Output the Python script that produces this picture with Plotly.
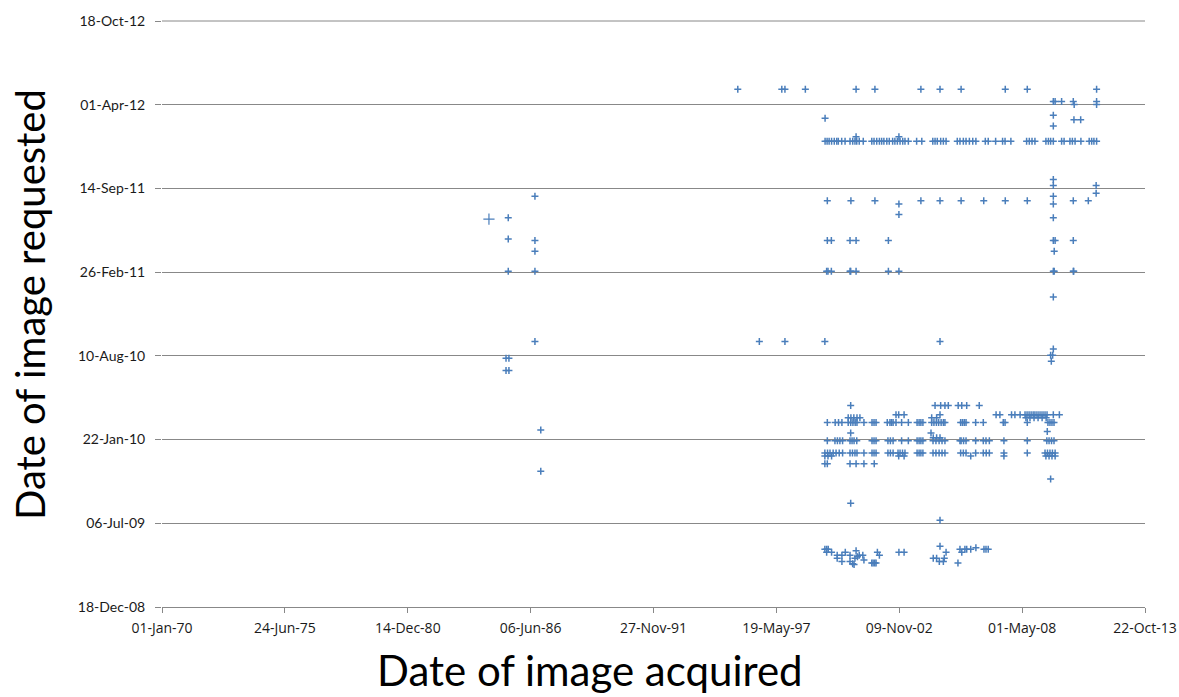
import datetime as dt
import plotly.graph_objects as go

# ---- values (decimal years) ----
# Archive images acquired in the mid-1980s: (acquired, requested) pairs
archive_acq = [1984.57, 1985.43, 1986.62, 1985.43, 1986.62, 1986.62, 1985.43, 1986.62,
               1986.62, 1985.33, 1985.46, 1985.33, 1985.46, 1986.88, 1986.88]
archive_req = [2011.50, 2011.51, 2011.65, 2011.37, 2011.36, 2011.29, 2011.16, 2011.16,
               2010.70, 2010.59, 2010.59, 2010.51, 2010.51, 2010.12, 2009.85]

# Rows: many images requested on the same date
req_may12 = 2012.35
acq_may12 = [1995.66, 1997.62, 1997.76, 1998.67, 2000.93, 2001.77, 2003.82, 2004.67,
             2005.61, 2007.58, 2008.56, 2011.65]

req_jan12 = 2012.01
acq_jan12 = [1999.55, 1999.64, 1999.73, 1999.84, 1999.96, 2000.07, 2000.14, 2000.29, 2000.44,
             2000.66, 2000.78, 2000.88, 2000.96, 2001.07, 2001.25, 2001.63, 2001.73, 2001.85,
             2001.97, 2002.07, 2002.17, 2002.30, 2002.41, 2002.56, 2002.66, 2002.77, 2002.89,
             2003.01, 2003.11, 2003.26, 2003.63, 2003.86, 2004.35, 2004.45, 2004.55, 2004.70,
             2004.82, 2004.94, 2005.44, 2005.56, 2005.71, 2005.83, 2005.98, 2006.13, 2006.27,
             2006.69, 2006.82, 2007.15, 2007.46, 2007.57, 2007.83, 2008.53, 2008.65, 2008.77,
             2008.90, 2009.39, 2009.50, 2009.60, 2009.72, 2010.09, 2010.20, 2010.46, 2010.57,
             2010.69, 2010.95, 2011.32, 2011.43, 2011.53, 2011.65]

req_aug11 = 2011.62
acq_aug11 = [1999.65, 2000.70, 2001.77, 2003.82, 2004.67, 2005.61, 2006.62, 2007.58,
             2008.56, 2010.61, 2011.28]

req_may11 = 2011.36
acq_may11 = [1999.65, 1999.83, 2000.66, 2000.93, 2002.37, 2009.72, 2009.80, 2010.61]

req_feb11 = 2011.16
acq_feb11 = [1999.62, 1999.68, 1999.83, 2000.66, 2000.69, 2000.93, 2002.37, 2002.84,
             2009.72, 2009.76, 2010.61, 2010.63]

req_sep10 = 2010.70
acq_sep10 = [1996.62, 1997.76, 1999.54, 2004.67]

req_apr10 = 2010.28
acq_apr10 = [2000.69, 2004.45, 2004.70, 2004.89, 2005.04, 2005.48, 2005.64, 2005.86, 2006.42]

req_mar10a = 2010.22
acq_mar10a = [2002.71, 2002.83, 2003.07, 2004.67, 2007.17, 2007.34, 2007.86, 2008.01, 2008.24,
              2008.46, 2008.55, 2008.64, 2008.73, 2008.82, 2008.90, 2008.99, 2009.08, 2009.17,
              2009.26, 2009.35, 2009.44, 2009.72, 2009.99]

req_mar10b = 2010.20
acq_mar10b = [2000.58, 2000.70, 2000.83, 2000.97, 2001.10, 2004.30, 2004.52, 2008.50, 2008.68,
              2008.86, 2009.04, 2009.22, 2009.40]

req_mar10c = 2010.17
acq_mar10c = [1999.65, 2000.00, 2000.15, 2000.30, 2000.58, 2000.69, 2000.79, 2000.89, 2000.97,
              2001.28, 2001.64, 2001.73, 2001.82, 2002.32, 2002.44, 2002.51, 2002.58, 2002.71,
              2002.96, 2003.26, 2003.65, 2003.74, 2003.82, 2003.91, 2004.30, 2004.40, 2004.51,
              2004.61, 2004.72, 2004.82, 2004.89, 2005.59, 2005.67, 2005.75, 2005.83, 2006.26,
              2006.60, 2007.49, 2007.57, 2008.56, 2009.48, 2009.57, 2009.66, 2009.75]

req_jan10 = 2010.05
acq_jan10 = [1999.65, 1999.99, 2000.10, 2000.21, 2000.33, 2000.66, 2000.75, 2000.84, 2000.96,
             2001.64, 2001.73, 2001.82, 2002.35, 2002.46, 2002.58, 2002.96, 2003.26, 2003.65,
             2003.74, 2003.82, 2003.91, 2004.36, 2004.49, 2004.63, 2004.76, 2004.89, 2005.56,
             2005.61, 2005.72, 2005.83, 2006.26, 2006.60, 2006.72, 2006.87, 2007.52, 2008.56,
             2009.43, 2009.53, 2009.64, 2009.75]

req_dec09a = 2009.97
acq_dec09a = [1999.54, 1999.66, 1999.77, 1999.91, 2000.04, 2000.18, 2000.33, 2000.66, 2000.77,
              2000.88, 2000.97, 2001.28, 2001.64, 2001.73, 2001.82, 2002.35, 2002.46, 2002.58,
              2002.80, 2002.89, 2003.00, 2003.11, 2003.65, 2003.74, 2003.82, 2003.91, 2004.36,
              2004.49, 2004.63, 2004.76, 2004.89, 2005.59, 2005.71, 2005.83, 2006.26, 2006.60,
              2006.73, 2006.87, 2007.52, 2008.56, 2009.35, 2009.46, 2009.57, 2009.68, 2009.80]

req_dec09b = 2009.95
acq_dec09b = [1999.54, 1999.68, 1999.84, 2002.83, 2003.07, 2006.04, 2007.52, 2009.39, 2009.53,
              2009.66, 2009.80]

req_nov09 = 2009.90
acq_nov09 = [1999.54, 1999.65, 2000.66, 2000.93, 2001.28, 2001.74]

# Scattered single requests (acquired, requested pairs)
upper_acq = [1999.55, 2009.72, 2009.72, 2010.64, 2010.94, 2000.93, 2002.84, 2009.72, 2009.80,
             2010.09, 2010.61, 2010.65, 2011.65, 2011.65]
upper_req = [2012.16, 2012.18, 2012.11, 2012.15, 2012.15, 2012.04, 2012.04, 2012.27, 2012.27,
             2012.27, 2012.27, 2012.25, 2012.27, 2012.25]

mid_acq = [2009.72, 2009.72, 2011.63, 2011.63, 2009.72, 2009.72, 2002.84, 2002.84, 2009.72,
           2009.76, 2009.72, 2009.72, 2009.60, 2009.69, 2009.63]
mid_req = [2011.76, 2011.72, 2011.72, 2011.67, 2011.65, 2011.60, 2011.60, 2011.53, 2011.51,
           2011.29, 2010.99, 2010.65, 2010.61, 2010.61, 2010.57]

cluster_acq = [2000.69, 2004.27, 2004.37, 2004.52, 2004.67, 2009.45, 2009.60, 2000.69, 2004.67]
cluster_req = [2010.10, 2010.10, 2010.07, 2010.07, 2010.07, 2010.11, 2009.80, 2009.64, 2009.53]

bottom_acq = [1999.54, 1999.62, 1999.69, 1999.62, 1999.84, 2000.09, 2000.09, 2000.30, 2000.30,
              2000.45, 2000.66, 2000.66, 2000.78, 2000.84, 2000.93, 2000.88, 2000.99, 2001.07,
              2001.23, 2001.28, 2001.63, 2001.69, 2001.76, 2001.82, 2001.88, 2001.97, 2002.84,
              2003.07, 2004.67, 2004.94, 2004.37, 2004.52, 2004.64, 2004.82, 2004.86, 2005.47,
              2005.56, 2005.64, 2005.78, 2005.86, 2006.04, 2006.27, 2006.63, 2006.72, 2006.82]
bottom_req = [2009.34, 2009.34, 2009.34, 2009.32, 2009.32, 2009.30, 2009.28, 2009.30, 2009.26,
              2009.32, 2009.30, 2009.26, 2009.245, 2009.24, 2009.33, 2009.28, 2009.29, 2009.30,
              2009.30, 2009.27, 2009.25, 2009.25, 2009.25, 2009.25, 2009.32, 2009.30, 2009.32,
              2009.32, 2009.36, 2009.32, 2009.28, 2009.28, 2009.26, 2009.26, 2009.28, 2009.25,
              2009.34, 2009.32, 2009.34, 2009.34, 2009.34, 2009.35, 2009.34, 2009.34, 2009.34]

x_range = ["1970-01-01", "2013-10-22"]
y_range = ["2008-12-18", "2012-10-18"]


def to_date(v):
    y = int(v)
    start = dt.datetime(y, 1, 1)
    end = dt.datetime(y + 1, 1, 1)
    return start + (end - start) * (v - y)


rows = [
    (req_may12, acq_may12), (req_jan12, acq_jan12), (req_aug11, acq_aug11),
    (req_may11, acq_may11), (req_feb11, acq_feb11), (req_sep10, acq_sep10),
    (req_apr10, acq_apr10), (req_mar10a, acq_mar10a), (req_mar10b, acq_mar10b),
    (req_mar10c, acq_mar10c), (req_jan10, acq_jan10), (req_dec09a, acq_dec09a),
    (req_dec09b, acq_dec09b), (req_nov09, acq_nov09),
]
pairs = [(archive_acq[1:], archive_req[1:]), (upper_acq, upper_req), (mid_acq, mid_req),
         (cluster_acq, cluster_req), (bottom_acq, bottom_req)]

xs, ys = [], []
for r, accs in rows:
    for a in accs:
        xs.append(to_date(a))
        ys.append(to_date(r))
for accs, reqs in pairs:
    for a, r in zip(accs, reqs):
        xs.append(to_date(a))
        ys.append(to_date(r))

blue = "#4A7EBB"
fig = go.Figure()
fig.add_trace(go.Scatter(
    x=xs, y=ys, mode="markers",
    marker=dict(symbol="cross-thin", size=5, color=blue, line=dict(color=blue, width=1.5)),
    showlegend=False, hoverinfo="x+y"))
fig.add_trace(go.Scatter(
    x=[to_date(v) for v in archive_acq[:1]], y=[to_date(v) for v in archive_req[:1]],
    mode="markers",
    marker=dict(symbol="cross-thin", size=8, color=blue, line=dict(color=blue, width=1.2)),
    showlegend=False))

grid = "#888888"
fig.update_layout(
    width=1179, height=697,
    margin=dict(l=162, r=34, t=21, b=90),
    paper_bgcolor="white", plot_bgcolor="white",
    font=dict(family="Open Sans, sans-serif", color="#222222"),
    xaxis=dict(
        type="date", range=x_range, tick0="1970-01-01", dtick=2000 * 86400000,
        tickformat="%d-%b-%y", showgrid=False, zeroline=False, automargin=False,
        showline=True, linecolor=grid, linewidth=1,
        ticks="outside", ticklen=5, tickcolor=grid, ticklabelstandoff=3,
        tickfont=dict(family="Liberation Sans Narrow, Open Sans, sans-serif", size=14, color="#1a1a1a"),
    ),
    yaxis=dict(
        type="date", range=y_range, tick0="2008-12-18", dtick=200 * 86400000,
        tickformat="%d-%b-%y", showgrid=True, gridcolor=grid, gridwidth=1,
        zeroline=False, showline=False, automargin=False,
        ticks="outside", ticklen=6, tickcolor=grid, ticklabelstandoff=7,
        tickfont=dict(family="Lato, sans-serif", size=14, color="#1a1a1a"),
    ),
    shapes=[dict(type="line", xref="paper", yref="paper", x0=0, x1=1, y0=1, y1=1,
                 line=dict(color=grid, width=1), layer="below")],
    annotations=[
        dict(text="Date of image acquired", xref="paper", yref="paper",
             x=(590 - 162) / 983, y=(607 - 670) / 586, xanchor="center", yanchor="middle",
             showarrow=False, font=dict(family="Lato, sans-serif", size=42, color="black")),
        dict(text="Date of image requested", xref="paper", yref="paper",
             x=(30 - 162) / 983, y=(607 - 305) / 586, xanchor="center", yanchor="middle",
             textangle=-90, showarrow=False,
             font=dict(family="Lato, sans-serif", size=40, color="black")),
    ],
)

fig.write_html("out.html", config={"displayModeBar": False},
               post_script="document.body.style.margin='0';")
